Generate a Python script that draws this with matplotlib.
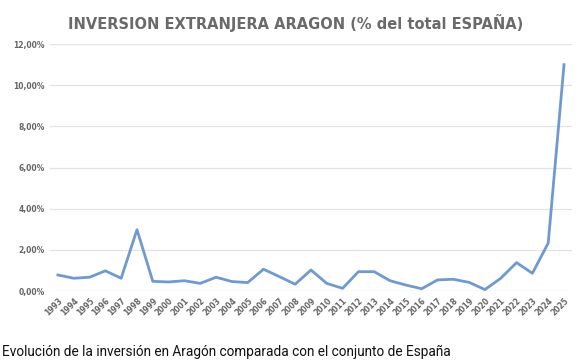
import matplotlib.pyplot as plt
from matplotlib.ticker import FuncFormatter

# datos: % de la inversion extranjera de Espana que va a Aragon
years = list(range(1993, 2026))
pct = [0.78, 0.62, 0.67, 0.98, 0.62, 2.98, 0.47, 0.44, 0.50, 0.37,
       0.67, 0.46, 0.41, 1.06, 0.70, 0.33, 1.02, 0.37, 0.13, 0.94,
       0.94, 0.50, 0.29, 0.11, 0.54, 0.57, 0.42, 0.07, 0.62, 1.38,
       0.86, 2.33, 11.0]
yticks = [0, 2, 4, 6, 8, 10, 12]

TITLE = 'INVERSION EXTRANJERA ARAGON (% del total ESPAÑA)'
CAPTION = 'Evolución de la inversión en Aragón comparada con el conjunto de España'

fig = plt.figure(figsize=(5.78, 3.64), dpi=100)
ax = fig.add_axes([0.0865, 0.2005, 0.903, 0.6785])

ax.plot(years, pct, color='#7099d0', lw=2)

ax.set_xlim(1992.5, 2025.5)
ax.set_ylim(0, 12)
ax.set_yticks(yticks)
ax.yaxis.set_major_formatter(FuncFormatter(lambda v, p: f'{v:.2f}%'.replace('.', ',')))
ax.set_xticks(years)
ax.set_xticklabels([str(y) for y in years], rotation=45, ha='right',
                   rotation_mode='anchor', fontsize=5.5, color='#666666',
                   fontweight='bold')
for t in ax.get_yticklabels():
    t.set_fontsize(5.5)
    t.set_color('#666666')
    t.set_fontweight('bold')

ax.grid(axis='y', color='#e3e3e3', lw=0.9)
ax.set_axisbelow(True)
ax.tick_params(length=0, pad=4)
for s in ax.spines.values():
    s.set_visible(False)

fig.text(0.511, 0.936, TITLE, ha='center', va='center', fontsize=10.5,
         fontweight='bold', color='#6a6a6a', family='DejaVu Sans')
fig.text(0.004, 0.033, CAPTION, ha='left', va='center', fontsize=9.8,
         color='#111111', family='Roboto')

fig.savefig('out.png', dpi=100)
